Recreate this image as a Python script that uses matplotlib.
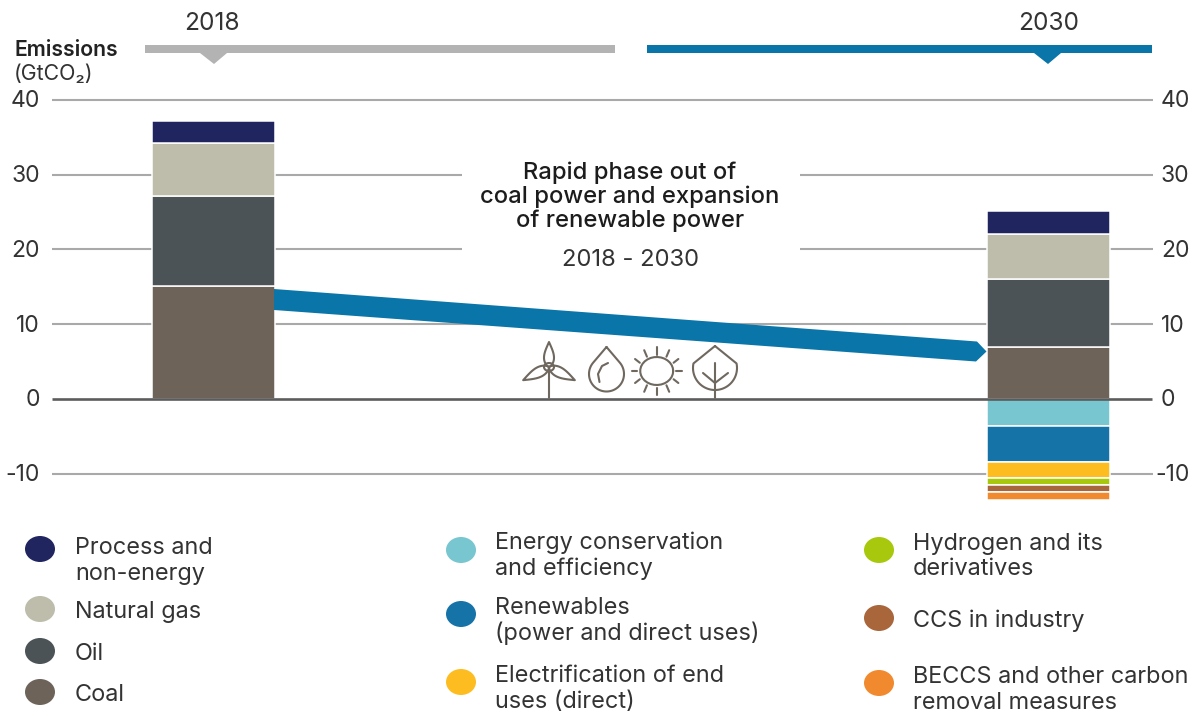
import numpy as np
import matplotlib
matplotlib.use('Agg')
import matplotlib.pyplot as plt
from matplotlib.patches import Ellipse, Polygon, Rectangle

plt.rcParams['font.family'] = ['Inter', 'DejaVu Sans']

YEARS = ['2018', '2030']
TICKS = [40, 30, 20, 10, 0, -10]

# stacked from the zero line outwards, GtCO2
POSITIVE_NAMES = ['Coal', 'Oil', 'Natural gas', 'Process and\nnon-energy']
POSITIVE_2018 = [15.1, 12.1, 7.0, 3.0]
POSITIVE_2030 = [7.0, 9.1, 6.0, 3.0]
POSITIVE_COLORS = ['#6d6359', '#4b5356', '#bebdab', '#20245f']

REDUCTION_NAMES = ['Energy conservation\nand efficiency', 'Renewables\n(power and direct uses)',
                   'Electrification of end\nuses (direct)', 'Hydrogen and its\nderivatives',
                   'CCS in industry', 'BECCS and other carbon\nremoval measures']
REDUCTION_2030 = [-3.6, -4.9, -2.1, -1.0, -0.9, -1.1]
REDUCTION_COLORS = ['#78c6cf', '#1673a8', '#fdbd21', '#a8c80d', '#a8663a', '#f18a2e']

TEXT_COLOR = '#333333'
GRID_COLOR = '#a9a9a9'
BLUE = '#0a75a8'
ICON_COLOR = '#6f685f'

W, H = 1192, 713
ZERO_PX = 398.8
PX_PER_UNIT = 7.47
BAR_X = [213, 1048]
BAR_WIDTH = 123
TICK_SIZE = 16.5
LEGEND_SIZE = 16.9

fig = plt.figure(figsize=(W / 100, H / 100), dpi=100)

# chart axes: x in pixels, y in GtCO2
ax = fig.add_axes([0, 0, 1, 1])
ax.set_xlim(0, W)
ax.set_ylim((ZERO_PX - H) / PX_PER_UNIT, ZERO_PX / PX_PER_UNIT)
ax.axis('off')

for tick in TICKS:
    if tick != 0:
        ax.plot([52, 1153], [tick, tick], color=GRID_COLOR, lw=1.5, zorder=1, solid_capstyle='butt')
    ax.text(40, tick - 0.2, str(tick), ha='right', va='center', fontsize=TICK_SIZE, color=TEXT_COLOR)
    if tick < 0:
        # the minus sign runs too wide for the margin otherwise
        ax.text(1190, tick - 0.2, str(tick), ha='right', va='center', fontsize=TICK_SIZE, color=TEXT_COLOR)
    else:
        ax.text(1161, tick - 0.2, str(tick), ha='left', va='center', fontsize=TICK_SIZE, color=TEXT_COLOR)

for x, values in zip(BAR_X, [POSITIVE_2018, POSITIVE_2030]):
    bottom = 0
    for value, color in zip(values, POSITIVE_COLORS):
        ax.bar(x, value, BAR_WIDTH, bottom=bottom, color=color, edgecolor='white', linewidth=1.1, zorder=2)
        bottom += value

bottom = 0
for value, color in zip(REDUCTION_2030, REDUCTION_COLORS):
    ax.bar(BAR_X[1], value, BAR_WIDTH, bottom=bottom, color=color, edgecolor='white', linewidth=1.1, zorder=2)
    bottom += value

ax.plot([52, 1152], [0, 0], color='#5c5c5c', lw=1.9, zorder=3, solid_capstyle='butt')

# overlay in image pixels for the annotations
deco = fig.add_axes([0, 0, 1, 1])
deco.set_xlim(0, W)
deco.set_ylim(H, 0)
deco.axis('off')
deco.patch.set_alpha(0)

# year bars on top
deco.add_patch(Rectangle((145, 44.5), 470, 8.5, color='#b3b3b3', lw=0))
deco.add_patch(Polygon([(200, 53), (227, 53), (214, 64)], color='#b3b3b3', lw=0))
deco.add_patch(Rectangle((647, 45), 505, 8, color=BLUE, lw=0))
deco.add_patch(Polygon([(1034, 53), (1061, 53), (1048, 64)], color=BLUE, lw=0))
deco.text(212, 24, YEARS[0], ha='center', va='center', fontsize=17.6, color=TEXT_COLOR)
deco.text(1049, 24, YEARS[1], ha='center', va='center', fontsize=17.6, color=TEXT_COLOR)
deco.text(14, 50.5, 'Emissions', ha='left', va='center', fontsize=15.3, fontweight='semibold', color='#222222')
deco.text(14, 74, '(GtCO₂)', ha='left', va='center', fontsize=15.3, color=TEXT_COLOR)

# gap in the grid behind the centre label
deco.add_patch(Rectangle((462, 165), 338, 95, color='white', lw=0))
deco.text(630, 196.5, 'Rapid phase out of\ncoal power and expansion\nof renewable power', ha='center', va='center',
          fontsize=17.15, fontweight='medium', color='#1c1c1c', linespacing=1.075)
deco.text(630.5, 260, '2018 - 2030', ha='center', va='center', fontsize=17.15, color=TEXT_COLOR)

deco.add_patch(Polygon([(274, 289), (977, 341.5), (986.5, 351.5), (976, 361.5), (274, 310)], color=BLUE, lw=0))


def stroke(xs, ys, lw=1.5):
    deco.plot(xs, ys, color=ICON_COLOR, lw=lw, solid_capstyle='round', solid_joinstyle='round')


def blade(cx, cy, angle, length, width=5):
    t = np.linspace(0, 1, 30)
    w = width * np.sin(np.pi * t ** 0.7)
    u = np.concatenate([t, t[::-1]]) * length
    v = np.concatenate([w, -w[::-1]])
    a = np.radians(angle)
    stroke(cx + u * np.cos(a) - v * np.sin(a), cy + u * np.sin(a) + v * np.cos(a))


def teardrop(cx, cy, r, apex_y, start):
    # straight sides from the apex onto an arc that starts at angle start
    angles = np.linspace(start, -np.pi - start, 60)
    xs = cx + r * np.cos(angles)
    ys = cy - r * np.sin(angles)
    stroke(np.r_[cx, xs, cx], np.r_[apex_y, ys, apex_y])


# wind turbine
stroke([549, 549], [372, 398])
for angle, length in [(-90, 25), (153, 29), (27, 29)]:
    blade(549, 367, angle, length)
hub = np.linspace(0, 2 * np.pi, 30)
stroke(549 + 5 * np.cos(hub), 367 + 4 * np.sin(hub))

# water drop
teardrop(606.5, 374, 17.5, 347, np.arcsin(17.5 / 27))
stroke([608, 602, 598, 599.5], [363, 366, 374, 382])

# sun
stroke(656.7 + 16.5 * np.cos(hub), 371 + 14 * np.sin(hub))
for angle in np.radians(np.arange(0, 360, 30)):
    stroke([656.7 + 19.5 * np.cos(angle), 656.7 + 25 * np.cos(angle)],
           [371 + 16.5 * np.sin(angle), 371 + 24 * np.sin(angle)])

# leaf
teardrop(715, 368, 22, 346, np.radians(12))
stroke([715, 715], [363, 398])
stroke([703, 715, 728], [373, 383, 373])

# legend
for (cy, ty), name, color in zip([(692, 695), (651, 654), (609, 612), (549, 561)], POSITIVE_NAMES, POSITIVE_COLORS):
    deco.add_patch(Ellipse((40, cy), 30, 26, color=color, lw=0))
    deco.text(75, ty, name, ha='left', va='center', fontsize=LEGEND_SIZE, color=TEXT_COLOR, linespacing=1.18)

for (cx, tx, cy, ty), name, color in zip(
        [(461, 495, 550, 556), (461, 495, 614, 621), (461, 495, 682, 689),
         (879, 913, 550, 556), (879, 913, 618, 621), (879, 913, 683, 690)],
        REDUCTION_NAMES, REDUCTION_COLORS):
    deco.add_patch(Ellipse((cx, cy), 30, 26, color=color, lw=0))
    deco.text(tx, ty, name, ha='left', va='center', fontsize=LEGEND_SIZE, color=TEXT_COLOR, linespacing=1.18)

fig.savefig('out.png', dpi=100)
